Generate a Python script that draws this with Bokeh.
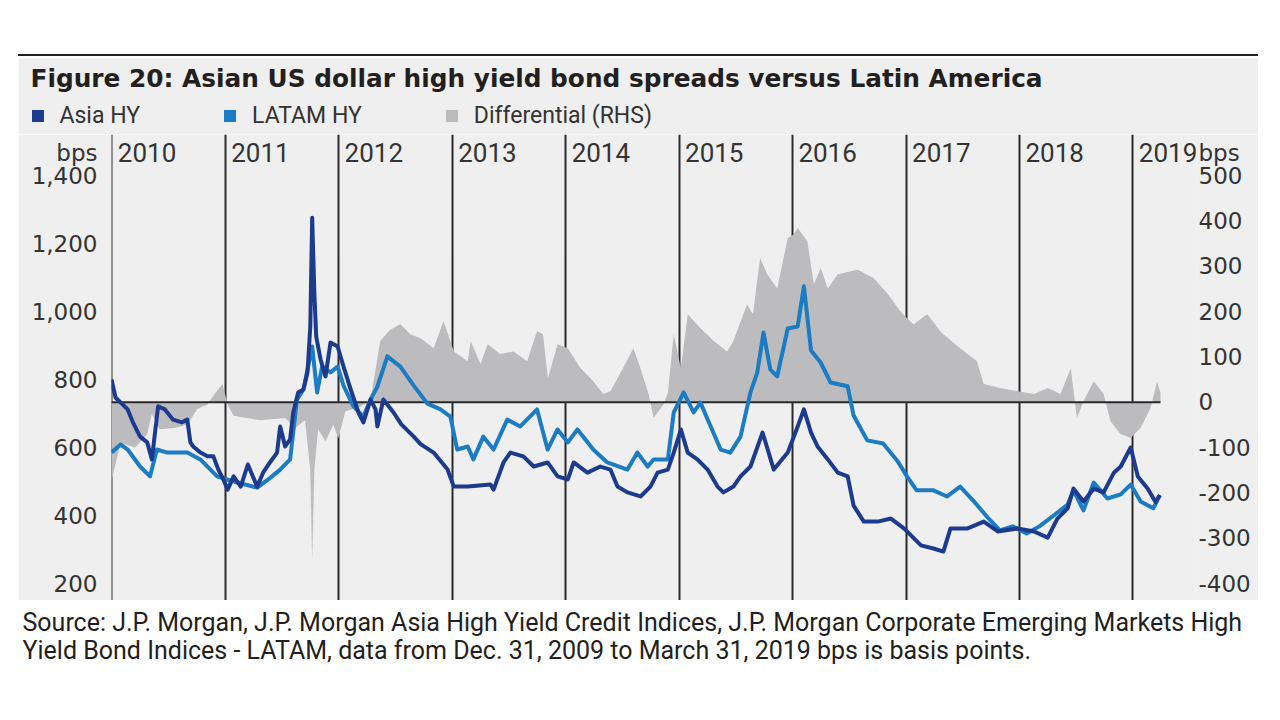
import pandas as pd
from bokeh.plotting import figure
from bokeh.models import (Range1d, LinearAxis, FixedTicker, Label, LabelSet,
                          ColumnDataSource, Legend, LegendItem, Div)
from bokeh.layouts import column
from bokeh.embed import file_html
from bokeh.resources import INLINE
from bokeh.core.properties import value

# ---------------- data ----------------
asia_dates = [
    "2009-12-31", "2010-01-13", "2010-02-21", "2010-03-10", "2010-04-02", "2010-04-25",
    "2010-05-10", "2010-05-30", "2010-06-21", "2010-07-17", "2010-08-15", "2010-09-01",
    "2010-09-11", "2010-09-20", "2010-10-13", "2010-11-05", "2010-11-24", "2010-12-10",
    "2010-12-26", "2011-01-09", "2011-01-28", "2011-02-20", "2011-03-15", "2011-04-14",
    "2011-05-03", "2011-05-25", "2011-06-17", "2011-06-27", "2011-07-13", "2011-07-29",
    "2011-08-08", "2011-08-24", "2011-09-10", "2011-09-23", "2011-10-02", "2011-10-08",
    "2011-10-15", "2011-10-21", "2011-11-04", "2011-11-20", "2011-12-06", "2011-12-29",
    "2012-01-17", "2012-02-09", "2012-03-05", "2012-03-21", "2012-04-13", "2012-04-29",
    "2012-05-05", "2012-05-24", "2012-06-26", "2012-07-21", "2012-08-30", "2012-09-21",
    "2012-11-02", "2012-12-17", "2013-01-06", "2013-02-20", "2013-05-04", "2013-05-14",
    "2013-06-15", "2013-07-07", "2013-08-18", "2013-09-20", "2013-11-04", "2013-12-06",
    "2014-01-08", "2014-01-27", "2014-03-12", "2014-04-23", "2014-05-25", "2014-06-17",
    "2014-07-19", "2014-08-30", "2014-10-01", "2014-10-24", "2014-11-26", "2014-12-15",
    "2015-01-07", "2015-01-29", "2015-03-01", "2015-04-03", "2015-05-05", "2015-05-24",
    "2015-06-25", "2015-07-18", "2015-08-19", "2015-09-27", "2015-11-02", "2015-12-17",
    "2016-01-18", "2016-02-07", "2016-03-01", "2016-03-22", "2016-04-24", "2016-05-26",
    "2016-06-27", "2016-07-16", "2016-08-18", "2016-10-02", "2016-11-13", "2016-12-25",
    "2017-02-18", "2017-03-30", "2017-05-01", "2017-05-24", "2017-07-18", "2017-09-08",
    "2017-10-23", "2017-12-26", "2018-02-17", "2018-04-02", "2018-05-03", "2018-06-05",
    "2018-06-24", "2018-07-26", "2018-08-28", "2018-09-29", "2018-11-01", "2018-11-23",
    "2018-12-25", "2019-01-17", "2019-02-18", "2019-03-15", "2019-03-29",
]
asia_values = [
    800, 747, 712, 674, 632, 615,
    565, 721, 712, 682, 674, 682,
    615, 603, 585, 574, 574, 535,
    506, 476, 515, 485, 550, 485,
    526, 556, 585, 662, 603, 624,
    703, 762, 771, 821, 956, 1276,
    1056, 926, 859, 809, 909, 897,
    838, 771, 703, 674, 741, 712,
    662, 741, 703, 668, 632, 610,
    585, 535, 485, 485, 491, 476,
    556, 585, 574, 544, 556, 515,
    506, 556, 526, 544, 535, 485,
    468, 456, 485, 526, 535, 585,
    653, 585, 565, 535, 485, 468,
    485, 515, 544, 644, 535, 585,
    662, 712, 644, 603, 565, 526,
    515, 429, 382, 382, 391, 362,
    312, 303, 294, 362, 362, 382,
    353, 362, 353, 335, 391, 421,
    479, 441, 479, 468, 526, 544,
    600, 515, 479, 440, 460,
]

latam_dates = [
    "2009-12-31", "2010-01-29", "2010-02-21", "2010-04-02", "2010-05-04", "2010-05-26",
    "2010-06-28", "2010-09-01", "2010-10-13", "2010-12-06", "2011-01-28", "2011-04-14",
    "2011-05-25", "2011-06-27", "2011-07-29", "2011-08-20", "2011-09-10", "2011-10-08",
    "2011-10-24", "2011-11-09", "2011-12-06", "2011-12-29", "2012-01-17", "2012-02-18",
    "2012-03-21", "2012-04-13", "2012-05-05", "2012-06-06", "2012-07-18", "2012-08-30",
    "2012-10-13", "2012-11-24", "2012-12-26", "2013-01-17", "2013-02-20", "2013-03-10",
    "2013-04-11", "2013-05-14", "2013-06-27", "2013-08-08", "2013-10-01", "2013-11-04",
    "2013-12-06", "2014-01-08", "2014-02-08", "2014-03-31", "2014-05-15", "2014-07-19",
    "2014-08-20", "2014-09-22", "2014-10-11", "2014-11-26", "2014-12-15", "2015-01-16",
    "2015-02-17", "2015-03-11", "2015-04-13", "2015-05-15", "2015-06-15", "2015-07-18",
    "2015-08-19", "2015-09-10", "2015-09-30", "2015-10-22", "2015-11-13", "2015-12-17",
    "2016-01-18", "2016-02-07", "2016-03-01", "2016-04-01", "2016-05-03", "2016-06-27",
    "2016-07-16", "2016-08-29", "2016-10-19", "2016-12-03", "2017-01-04", "2017-02-04",
    "2017-03-30", "2017-05-13", "2017-06-24", "2017-08-05", "2017-09-18", "2017-10-30",
    "2017-12-10", "2018-01-24", "2018-03-06", "2018-04-17", "2018-06-05", "2018-06-24",
    "2018-07-26", "2018-08-28", "2018-10-11", "2018-11-23", "2018-12-25", "2019-01-26",
    "2019-03-08", "2019-03-29",
]
latam_values = [
    585, 609, 594, 544, 515, 594,
    585, 585, 565, 515, 500, 482,
    510, 535, 565, 741, 771, 897,
    762, 838, 821, 838, 782, 721,
    691, 741, 779, 868, 838, 782,
    729, 712, 691, 594, 603, 565,
    632, 594, 682, 662, 712, 594,
    653, 615, 653, 594, 556, 535,
    585, 544, 565, 565, 703, 762,
    703, 732, 662, 594, 585, 632,
    762, 821, 938, 829, 809, 950,
    956, 1074, 885, 850, 791, 780,
    694, 621, 612, 562, 515, 474,
    474, 456, 485, 444, 397, 356,
    368, 347, 368, 397, 432, 474,
    415, 497, 450, 462, 491, 441,
    421, 460,
]

diff_dates = [
    "2009-12-31", "2010-01-29", "2010-03-17", "2010-04-25", "2010-05-10", "2010-06-04",
    "2010-07-21", "2010-09-01", "2010-10-03", "2010-11-05", "2010-11-30", "2010-12-23",
    "2011-01-09", "2011-01-28", "2011-04-24", "2011-07-13", "2011-08-14", "2011-09-15",
    "2011-10-02", "2011-10-08", "2011-10-15", "2011-10-27", "2011-11-20", "2011-12-15",
    "2011-12-31", "2012-01-23", "2012-03-11", "2012-04-13", "2012-05-14", "2012-06-15",
    "2012-07-18", "2012-08-19", "2012-09-21", "2012-11-02", "2012-12-04", "2013-01-06",
    "2013-02-20", "2013-03-01", "2013-04-02", "2013-04-25", "2013-06-04", "2013-07-17",
    "2013-08-30", "2013-10-01", "2013-10-20", "2013-11-05", "2013-12-06", "2014-01-08",
    "2014-02-18", "2014-03-31", "2014-05-02", "2014-05-25", "2014-07-05", "2014-08-07",
    "2014-08-30", "2014-09-25", "2014-10-11", "2014-11-12", "2014-11-26", "2014-12-15",
    "2015-01-07", "2015-01-29", "2015-03-11", "2015-04-23", "2015-06-05", "2015-06-25",
    "2015-08-08", "2015-08-27", "2015-09-19", "2015-10-12", "2015-11-13", "2015-12-17",
    "2016-01-05", "2016-01-18", "2016-02-18", "2016-03-10", "2016-04-01", "2016-04-24",
    "2016-05-26", "2016-07-29", "2016-09-18", "2016-11-01", "2016-12-13", "2017-01-04",
    "2017-01-25", "2017-03-10", "2017-04-21", "2017-05-01", "2017-06-24", "2017-08-17",
    "2017-09-08", "2017-10-30", "2017-12-26", "2018-02-17", "2018-04-02", "2018-05-13",
    "2018-06-15", "2018-07-05", "2018-07-26", "2018-08-28", "2018-09-29", "2018-10-21",
    "2018-11-23", "2018-12-25", "2019-01-26", "2019-02-27", "2019-03-20", "2019-03-31",
]
diff_values = [
    -174, -90, -100, -70, -26, -60,
    -57, -50, -15, -5, 20, 40,
    -5, -30, -40, -35, -57, -40,
    -150, -350, -150, -60, -86, -50,
    -80, -20, -10, 5, 135, 160,
    172, 150, 141, 119, 179, 112,
    90, 135, 84, 128, 106, 112,
    90, 157, 150, 53, 128, 119,
    75, 46, 18, 24, 75, 119,
    75, 18, -35, -5, 20, 150,
    75, 194, 163, 135, 112, 135,
    216, 194, 318, 282, 251, 362,
    370, 384, 355, 260, 296, 251,
    282, 292, 274, 240, 201, 185,
    172, 194, 157, 150, 119, 90,
    40, 31, 24, 18, 31, 18,
    75, -35, 2, 46, 18, -42,
    -71, -79, -57, -13, 46, 20,
]

years = ["2010", "2011", "2012", "2013", "2014", "2015", "2016", "2017", "2018", "2019"]
left_ticks = [200, 400, 600, 800, 1000, 1200, 1400]
right_ticks = [-400, -300, -200, -100, 0, 100, 200, 300, 400, 500]
unit_label = "bps"
series_names = ["Asia HY", "LATAM HY", "Differential (RHS)"]

title_text = "Figure 20: Asian US dollar high yield bond spreads versus Latin America"
source_lines = [
    "Source: J.P. Morgan, J.P. Morgan Asia High Yield Credit Indices, J.P. Morgan Corporate Emerging Markets High",
    "Yield Bond Indices - LATAM, data from Dec. 31, 2009 to March 31, 2019 bps is basis points.",
]

# ---------------- styling ----------------
BG = "#efefef"
ASIA = "#1c3a8e"
LATAM = "#1b7bc3"
DIFF = "#bcbcbe"
INK = "#231f20"
LBL = "#333333"
NUM_FONT = "DejaVu Sans"
TXT_FONT = "Roboto"

# geometry (pixels in the picture)
CANVAS_L, CANVAS_W = 18, 1240
HEAD_T = 58
FRAME_L, FRAME_R, FRAME_T, FRAME_B = 111, 1196, 134, 600
DATA_END_PX = 1160
TOP_TICK_PX, BOTTOM_TICK_PX = 175, 583     # where the top / bottom tick labels sit

x_start = pd.Timestamp("2009-12-31")
x_data_end = pd.Timestamp("2019-03-31")
x_start_ms = x_start.value / 1e6
x_data_end_ms = x_data_end.value / 1e6
x_frame_end_ms = x_start_ms + (x_data_end_ms - x_start_ms) * (FRAME_R - FRAME_L) / (DATA_END_PX - FRAME_L)

left_ppu = (BOTTOM_TICK_PX - TOP_TICK_PX) / (left_ticks[-1] - left_ticks[0])
right_ppu = (BOTTOM_TICK_PX - TOP_TICK_PX) / (right_ticks[-1] - right_ticks[0])
left_hi = left_ticks[-1] + (TOP_TICK_PX - FRAME_T) / left_ppu
left_lo = left_ticks[0] - (FRAME_B - BOTTOM_TICK_PX) / left_ppu
right_hi = right_ticks[-1] + (TOP_TICK_PX - FRAME_T) / right_ppu
right_lo = right_ticks[0] - (FRAME_B - BOTTOM_TICK_PX) / right_ppu
unit_px_above = 23  # the "bps" labels sit this far above the top tick label
bps_left = left_ticks[-1] + unit_px_above / left_ppu
bps_right = right_ticks[-1] + unit_px_above / right_ppu

asia_src = ColumnDataSource(dict(x=pd.to_datetime(asia_dates), v=asia_values))
latam_src = ColumnDataSource(dict(x=pd.to_datetime(latam_dates), v=latam_values))
diff_src = ColumnDataSource(dict(x=pd.to_datetime(diff_dates), d=diff_values))

# ---------------- header: title + legend ----------------
head_h = FRAME_T - HEAD_T
hp = figure(width=CANVAS_W, height=head_h, output_backend="svg", toolbar_location=None,
            x_axis_location=None, y_axis_location=None,
            x_range=Range1d(0, CANVAS_W), y_range=Range1d(0, head_h),
            min_border=0, outline_line_color=None, background_fill_color=BG,
            border_fill_color=BG, frame_align=False, margin=(2, 0, 0, CANVAS_L))
hp.grid.visible = False
hp.add_layout(Label(x=30 - CANVAS_L, y=head_h - (78 - HEAD_T), text=title_text,
                    text_align="left", text_baseline="middle", text_font=NUM_FONT,
                    text_font_style="bold", text_font_size="24.8px", text_color=INK))
# legend swatches: zero-height areas over each series (nothing visible in this
# header panel); they exist only so that the legend can draw its colour squares
swatches = [
    hp.varea(x="x", y1="v", y2="v", source=asia_src, fill_color=ASIA),
    hp.varea(x="x", y1="v", y2="v", source=latam_src, fill_color=LATAM),
    hp.varea(x="x", y1="d", y2="d", source=diff_src, fill_color=DIFF),
]
legend = Legend(items=[LegendItem(label=lab, renderers=[r]) for lab, r in
                       zip(series_names, swatches)],
                orientation="horizontal", location=(29.5 - CANVAS_L, FRAME_T - 128.5),
                glyph_width=15, glyph_height=15, label_standoff=15, spacing=82,
                padding=0, margin=0, background_fill_alpha=0, border_line_color=None,
                label_text_font=TXT_FONT, label_text_font_size="23px",
                label_text_color=LBL)
hp.add_layout(legend)

# ---------------- main chart ----------------
p = figure(width=CANVAS_W, height=FRAME_B - FRAME_T, output_backend="svg",
           toolbar_location=None, x_axis_type="datetime", x_axis_location=None,
           y_axis_location=None,
           x_range=Range1d(x_start_ms, x_frame_end_ms), y_range=Range1d(left_lo, left_hi),
           min_border_left=FRAME_L - CANVAS_L,
           min_border_right=CANVAS_L + CANVAS_W - FRAME_R,
           min_border_top=0, min_border_bottom=0,
           background_fill_color=BG, border_fill_color=BG, outline_line_color=None,
           frame_align=False, margin=(0, 0, 0, CANVAS_L))
p.extra_y_ranges = {"right": Range1d(right_lo, right_hi)}

year_ms = [pd.Timestamp(f"{y}-01-01").value / 1e6 for y in years]
p.xgrid.ticker = FixedTicker(ticks=year_ms)
p.xgrid.grid_line_color = "#2a2a2a"
p.xgrid.grid_line_width = 2
p.ygrid.grid_line_color = None

left_labels = {t: f"{t:,}" for t in left_ticks}
left_labels[bps_left] = unit_label
right_labels = {t: str(t) for t in right_ticks}
right_labels[bps_right] = unit_label
left_axis = LinearAxis(ticker=FixedTicker(ticks=left_ticks + [bps_left]),
                       major_label_overrides=left_labels)
right_axis = LinearAxis(y_range_name="right",
                        ticker=FixedTicker(ticks=right_ticks + [bps_right]),
                        major_label_overrides=right_labels)
for ax, standoff in ((left_axis, 14), (right_axis, 2)):
    ax.axis_line_color = None
    ax.major_tick_line_color = None
    ax.minor_tick_line_color = None
    ax.major_tick_out = 0
    ax.major_tick_in = 0
    ax.major_label_standoff = standoff
    ax.major_label_text_font = NUM_FONT
    ax.major_label_text_font_size = "23px"
    ax.major_label_text_color = LBL
p.add_layout(left_axis, "left")
p.add_layout(right_axis, "right")

p.varea(x="x", y1=0, y2="d", source=diff_src, y_range_name="right", fill_color=DIFF)
zero_src = ColumnDataSource(dict(x0=[pd.Timestamp(diff_dates[0])],
                                 x1=[pd.Timestamp(diff_dates[-1])], y=[0]))
p.segment(x0="x0", x1="x1", y0="y", y1="y", source=zero_src, y_range_name="right",
          line_color="#2a2a2a", line_width=2)
p.line(x="x", y="v", source=latam_src, line_color=LATAM, line_width=4, line_join="round")
p.line(x="x", y="v", source=asia_src, line_color=ASIA, line_width=4, line_join="round")

year_src = ColumnDataSource(dict(x=year_ms, y=[left_hi] * len(years), t=years))
p.add_layout(LabelSet(x="x", y="y", text="t", source=year_src, x_offset=6,
                      y_offset=FRAME_T - 142, text_baseline="top", text_align="left",
                      text_font=value(TXT_FONT), text_font_size=value("26px"),
                      text_color=value(LBL)))

# ---------------- top rule and source notes ----------------
rule = Div(width=CANVAS_W, height=2, margin=(54, 0, 0, CANVAS_L),
           styles={"background-color": INK})

src = figure(width=CANVAS_W, height=64, output_backend="svg", toolbar_location=None,
             x_axis_location=None, y_axis_location=None,
             x_range=Range1d(0, CANVAS_W), y_range=Range1d(0, 64),
             min_border=0, outline_line_color=None, border_fill_color="white",
             background_fill_color="white", frame_align=False,
             margin=(4, 0, 0, CANVAS_L))
src.grid.visible = False
for i, line in enumerate(source_lines):
    src.add_layout(Label(x=4, y=46 - 28 * i, text=line, text_baseline="middle",
                         text_align="left", text_font=TXT_FONT,
                         text_font_size="25px", text_color=INK))

layout = column(rule, hp, p, src)
open("out.html", "w").write(file_html(layout, INLINE))
